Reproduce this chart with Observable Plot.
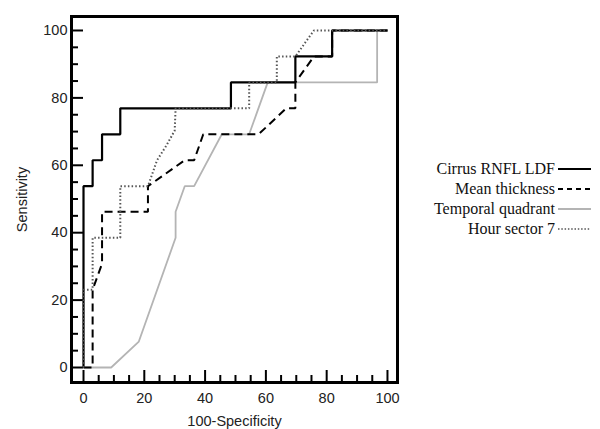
<!DOCTYPE html>
<html><head><meta charset="utf-8">
<script src="https://cdn.jsdelivr.net/npm/d3@7"></script>
<script src="https://cdn.jsdelivr.net/npm/@observablehq/plot@0.6"></script>
<style>
html,body{margin:0;padding:0;background:#fff;}
#wrap{position:relative;width:600px;height:429px;overflow:hidden;}
#legend{position:absolute;left:0;top:0;}
</style></head><body><div id="wrap"></div>
<script>
// ---- data ----
const seriesNames = ["Cirrus RNFL LDF", "Mean thickness", "Temporal quadrant", "Hour sector 7"];

const cirrusX = [0, 0, 3.0, 3.0, 6.1, 6.1, 12.1, 12.1, 48.5, 48.5, 69.7, 69.7, 81.8, 81.8, 100];
const cirrusY = [0, 53.8, 53.8, 61.5, 61.5, 69.2, 69.2, 76.9, 76.9, 84.6, 84.6, 92.3, 92.3, 100, 100];

const meanX = [0, 3.0, 3.0, 6.1, 6.1, 21.2, 21.2, 33.3, 36.4, 39.4, 54.5, 57.6, 66.7, 69.7, 69.7, 75.8, 81.8, 81.8, 100];
const meanY = [0, 0, 23.1, 30.8, 46.2, 46.2, 53.8, 61.5, 61.5, 69.2, 69.2, 69.2, 76.9, 76.9, 84.6, 92.3, 92.3, 100, 100];

const tempX = [0, 9.1, 18.2, 30.3, 30.3, 33.3, 36.4, 45.5, 54.5, 60.6, 96.6, 96.6, 100];
const tempY = [0, 0, 7.7, 38.5, 46.2, 53.8, 53.8, 69.2, 69.2, 84.6, 84.6, 100, 100];

const hourX = [0, 0, 3.0, 3.0, 12.1, 12.1, 21.2, 24.2, 27.3, 30.0, 30.3, 54.5, 54.5, 63.6, 63.6, 69.7, 75.8, 100];
const hourY = [0, 23.1, 23.1, 38.5, 38.5, 53.8, 53.8, 61.5, 65.9, 70.3, 76.9, 76.9, 84.6, 84.6, 92.3, 92.3, 100, 100];

const majorTicks = [0, 20, 40, 60, 80, 100];
const minorTicks = [5, 10, 15, 25, 30, 35, 45, 50, 55, 65, 70, 75, 85, 90, 95];

// ---- layout ----
const W = 600, H = 429, mL = 71, mR = 203, mT = 16, mB = 47;
const plotW = W - mL - mR, plotH = H - mT - mB;

const styles = {
  "Cirrus RNFL LDF":   {stroke: "#000", strokeWidth: 2.2, dash: null},
  "Mean thickness":    {stroke: "#000", strokeWidth: 2, dash: "8,5"},
  "Temporal quadrant": {stroke: "#b4b4b4", strokeWidth: 1.8, dash: null},
  "Hour sector 7":     {stroke: "#555", strokeWidth: 2, dash: "1.5,2.2"}
};

function rows(xs, ys) { return xs.map((x, i) => ({x, y: ys[i]})); }
const seriesData = {
  "Cirrus RNFL LDF": rows(cirrusX, cirrusY),
  "Mean thickness": rows(meanX, meanY),
  "Temporal quadrant": rows(tempX, tempY),
  "Hour sector 7": rows(hourX, hourY)
};
const drawOrder = ["Temporal quadrant", "Cirrus RNFL LDF", "Mean thickness", "Hour sector 7"];

const lineMarks = drawOrder.map(name => Plot.line(seriesData[name], {
  x: "x", y: "y", stroke: styles[name].stroke, strokeWidth: styles[name].strokeWidth,
  strokeDasharray: styles[name].dash, strokeLinejoin: "miter", strokeLinecap: "butt"
}));

const chart = Plot.plot({
  width: W, height: H,
  marginLeft: mL, marginRight: mR, marginTop: mT, marginBottom: mB,
  style: {fontFamily: "'Liberation Sans', Arial, sans-serif", background: "#fff", color: "#222"},
  x: {domain: [-3.95, 103.3]},
  y: {domain: [-4.45, 104.15]},
  marks: [
    Plot.axisX({ticks: majorTicks, tickSize: 0, tickPadding: 10, fontSize: 14.5,
      label: "100-Specificity", labelAnchor: "center", labelOffset: 43, labelArrow: "none"}),
    Plot.axisY({ticks: majorTicks, tickSize: 0, tickPadding: 4, fontSize: 14.5,
      label: "Sensitivity", labelAnchor: "center", labelOffset: 55, labelArrow: "none"}),
    Plot.tickX(majorTicks, {x: d => d, insetTop: plotH - 12, stroke: "#000", strokeWidth: 2}),
    Plot.tickX(minorTicks, {x: d => d, insetTop: plotH - 7, stroke: "#000", strokeWidth: 2}),
    Plot.tickY(majorTicks, {y: d => d, insetRight: plotW - 12, stroke: "#000", strokeWidth: 2}),
    Plot.tickY(minorTicks, {y: d => d, insetRight: plotW - 7, stroke: "#000", strokeWidth: 2}),
    ...lineMarks,
    Plot.frame({stroke: "#000", strokeWidth: 3})
  ]
});

const wrap = document.getElementById("wrap");
wrap.appendChild(chart);

// ---- legend ----
const leg = d3.select(wrap).append("svg").attr("id", "legend")
  .attr("width", W).attr("height", H)
  .style("font-family", "'Liberation Serif', 'Times New Roman', serif");
const legTextX = 555, legLine0 = 558, legLine1 = 591, legY0 = 169, legDY = 20;
seriesNames.forEach((name, i) => {
  const y = legY0 + i * legDY;
  leg.append("text").attr("x", legTextX).attr("y", y + 5).attr("text-anchor", "end")
    .attr("font-size", 16).attr("fill", "#111").text(name);
  leg.append("line").attr("x1", legLine0).attr("x2", legLine1).attr("y1", y).attr("y2", y)
    .attr("stroke", styles[name].stroke).attr("stroke-width", name === "Hour sector 7" ? 1.4 : styles[name].strokeWidth)
    .attr("stroke-dasharray", name === "Mean thickness" ? "5,4" : name === "Hour sector 7" ? "1.5,1.8" : null);
});
</script>
</body></html>
